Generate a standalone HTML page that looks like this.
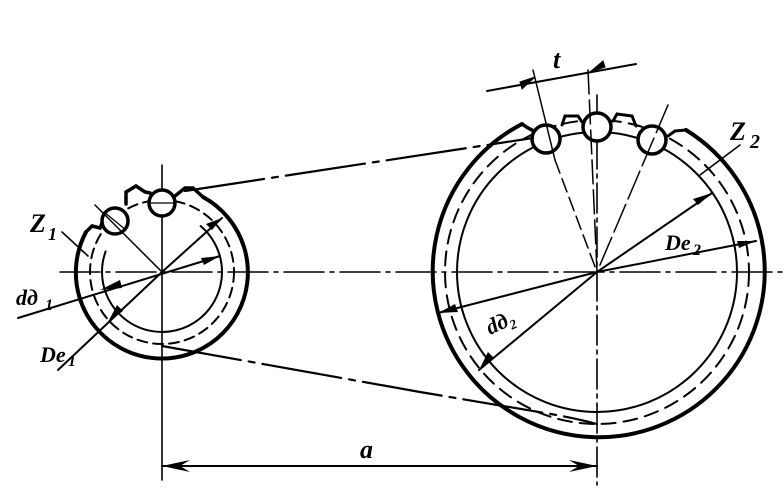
<!DOCTYPE html>
<html><head><style>body{margin:0;background:#fff}svg{display:block}</style></head><body>
<svg width="784" height="501" viewBox="0 0 784 501" xmlns="http://www.w3.org/2000/svg" font-family="Liberation Serif, serif" font-style="italic" font-weight="bold">
<g stroke="#000" fill="none" stroke-linecap="round">
<line x1="60" y1="272" x2="784" y2="272" stroke-width="1.6" stroke-dasharray="40,6,4,6"/>
<line x1="162" y1="165" x2="162" y2="480" stroke-width="1.6"/>
<line x1="597" y1="95" x2="597" y2="485" stroke-width="1.6" stroke-dasharray="30,5,4,5"/>
<path d="M 203 197 A 86 86 0 1 1 86 232" stroke-width="4"/>
<path d="M 86 232 L 92 226 L 100 228 L 104 218" stroke-width="3.5"/>
<path d="M 126 204 L 126 192 L 136 186 L 145 192 L 150 193" stroke-width="3.5"/>
<path d="M 175 196 L 185 188 L 193 188 L 203 197" stroke-width="3.5"/>
<circle cx="162" cy="272" r="72" stroke-width="2" stroke-dasharray="10,6"/>
<path d="M 200.6 226 A 60 60 0 1 1 105.6 251.5" stroke-width="2"/>
<circle cx="115" cy="221" r="13" stroke-width="3.5" fill="#fff"/>
<circle cx="162" cy="203" r="13" stroke-width="3.5" fill="#fff"/>
<line x1="95" y1="205" x2="162" y2="272" stroke-width="1.5"/>
<line x1="150" y1="203" x2="176" y2="203" stroke-width="1.2"/>
<line x1="104" y1="212" x2="126" y2="230" stroke-width="1.2"/>
<line x1="18" y1="318" x2="220" y2="256" stroke-width="2"/>
<line x1="162" y1="272" x2="222" y2="218" stroke-width="2"/>
<line x1="58" y1="370" x2="162" y2="272" stroke-width="2"/>
<line x1="62" y1="232" x2="88" y2="256" stroke-width="1.6"/>
<path d="M 686 130 A 166 166 0 1 1 522 124" stroke-width="4"/>
<path d="M 522 124 L 528 128 L 534 131" stroke-width="3.5"/>
<path d="M 562 125 L 565 116 L 578 116 L 582 122" stroke-width="3"/>
<path d="M 613 121 L 617 114 L 632 116 L 636 126" stroke-width="3"/>
<path d="M 668 136 L 675 131 L 686 130" stroke-width="3"/>
<circle cx="597" cy="272" r="152" stroke-width="2" stroke-dasharray="14,8"/>
<circle cx="597" cy="272" r="140" stroke-width="2"/>
<circle cx="546" cy="139" r="14" stroke-width="3.5" fill="#fff"/>
<circle cx="597" cy="127" r="14" stroke-width="3.5" fill="#fff"/>
<circle cx="652" cy="140" r="14" stroke-width="3.5" fill="#fff"/>
<line x1="533" y1="70" x2="555" y2="160" stroke-width="1.5"/>
<line x1="555" y1="160" x2="597" y2="272" stroke-width="1.5" stroke-dasharray="14,6"/>
<line x1="588" y1="70" x2="597" y2="272" stroke-width="1.5" stroke-dasharray="24,6"/>
<line x1="668" y1="105" x2="597" y2="272" stroke-width="1.5" stroke-dasharray="30,6"/>
<line x1="487" y1="91" x2="636" y2="64" stroke-width="2"/>
<path d="M 520 82 L 535 77 L 522 89 Z M 605 67 L 590 72 L 603 61 Z" fill="#000" stroke-width="1"/>
<line x1="597" y1="272" x2="712" y2="193" stroke-width="2"/>
<line x1="597" y1="272" x2="756" y2="241" stroke-width="2"/>
<line x1="438" y1="313" x2="597" y2="272" stroke-width="2"/>
<line x1="479" y1="370" x2="597" y2="272" stroke-width="2"/>
<line x1="700" y1="175" x2="740" y2="145" stroke-width="1.6"/>
<line x1="185" y1="191" x2="533" y2="138" stroke-width="2.2" stroke-dasharray="80,8,6,8"/>
<path d="M 162 346 L 420 392 L 545 413 Q 575 418 597 424" stroke-width="2.2" stroke-dasharray="80,8,6,8"/>
<line x1="162" y1="466" x2="597" y2="466" stroke-width="2"/>
</g>
<g fill="#000">
<path d="M 162 466 L 190 460 L 180 466 L 190 472 Z"/>
<path d="M 597 466 L 569 460 L 579 466 L 569 472 Z"/>
<path d="M 222 218 L 206 224 L 212 230 Z"/>
<path d="M 220 256 L 201 258 L 204 265 Z"/>
<path d="M 100 290 L 120 280 L 122 288 Z"/>
<path d="M 108 322 L 117 305 L 123 311 Z"/>
<path d="M 712 193 L 693 199 L 698 205 Z"/>
<path d="M 756 241 L 737 241 L 739 248 Z"/>
<path d="M 438 313 L 455 304 L 458 312 Z"/>
<path d="M 479 370 L 488 352 L 494 358 Z"/>
</g>
<g font-size="26" fill="#000">
<text x="360" y="458">a</text>
<text x="553" y="68">t</text>
<text x="730" y="140">Z</text><text x="750" y="148" font-size="20">2</text>
<text x="665" y="250" font-size="22">De</text><text x="693" y="255" font-size="16">2</text>
<text x="490" y="335" font-size="22" transform="rotate(-25 490 335)">dд₂</text>
<text x="30" y="232">Z</text><text x="48" y="240" font-size="18">1</text>
<text x="16" y="305" font-size="22">dд</text><text x="45" y="310" font-size="16">1</text>
<text x="40" y="362" font-size="22">De</text><text x="68" y="366" font-size="16">1</text>
</g>
</svg>
</body></html>
